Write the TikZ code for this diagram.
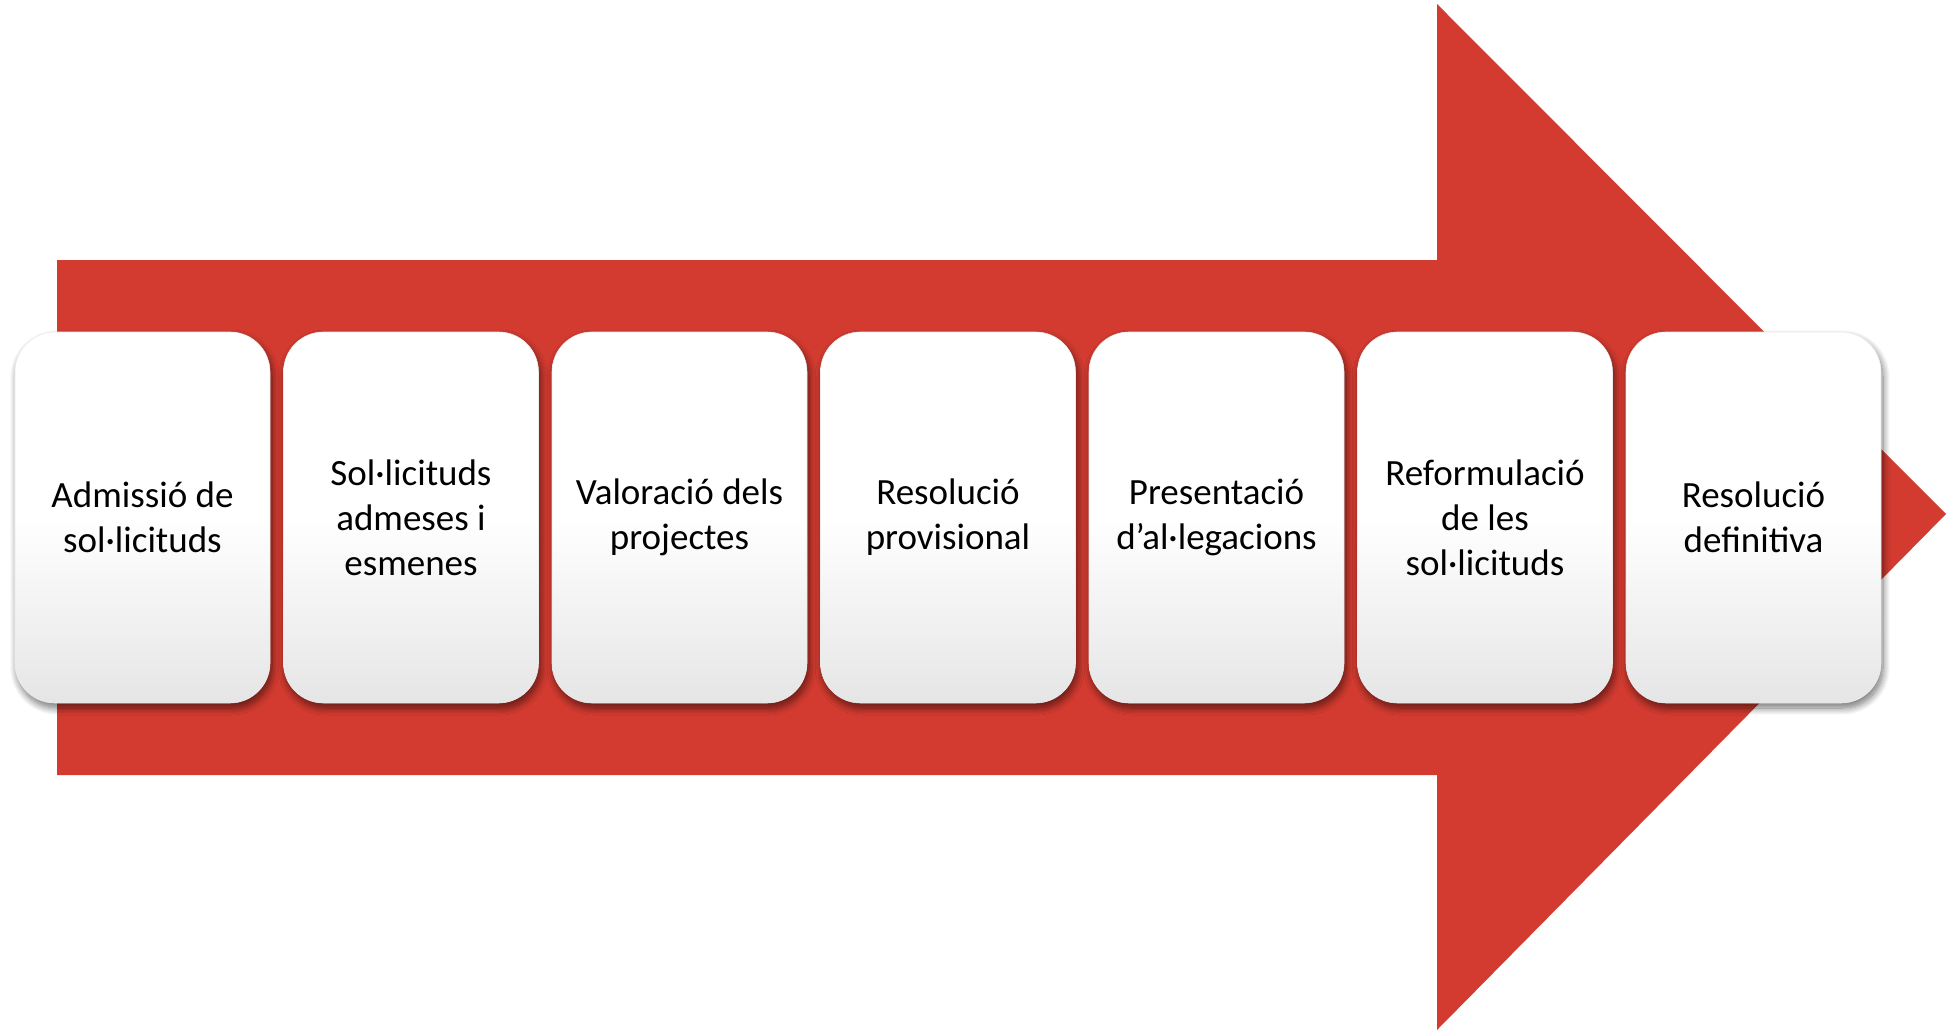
\documentclass[tikz,border=0pt]{standalone}
\usepackage{fontspec}
\setmainfont{Carlito}
\usetikzlibrary{shadows.blur}
\definecolor{arrowred}{HTML}{D33B30}
\pgfdeclareverticalshading{cardshade}{100bp}{color(0bp)=(black!10!white); color(25bp)=(black!10!white); color(50bp)=(white); color(100bp)=(white)}
\tikzset{
  card/.style={rounded corners=40pt, minimum width=255pt, minimum height=371pt,
    shading=cardshade, draw=black!8, line width=0.6pt, align=center, inner sep=4pt,
    font=\fontsize{37}{45}\selectfont, text=black,
    blur shadow={shadow xshift=2pt, shadow yshift=-5pt, shadow blur radius=7pt, shadow blur steps=12, shadow opacity=55}},
}
\begin{document}
\begin{tikzpicture}[x=1pt,y=-1pt]
\useasboundingbox (0,0) rectangle (1946,1030);
\fill[arrowred] (57,260) -- (1437,260) -- (1437,4) -- (1946,514) -- (1437,1030) -- (1437,775) -- (57,775) -- cycle;
\node[card] (c1) at (142.5,517.5) {Admissió de\\sol·licituds};
\node[card] (c2) at (411,517.5) {Sol·licituds\\admeses i\\esmenes};
\node[card] (c3) at (679.5,517.5) {Valoració dels\\projectes};
\node[card] (c4) at (948,517.5) {Resolució\\provisional};
\node[card] (c5) at (1216.5,517.5) {Presentació\\d’al·legacions};
\node[card] (c6) at (1485,517.5) {Reformulació\\de les\\sol·licituds};
\node[card] (c7) at (1753.5,517.5) {Resolució\\definitiva};
\end{tikzpicture}
\end{document}
